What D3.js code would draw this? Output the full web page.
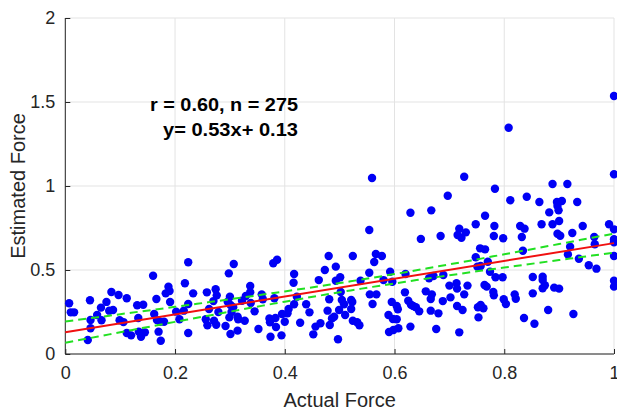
<!DOCTYPE html>
<html>
<head>
<meta charset="utf-8">
<script src="https://cdn.jsdelivr.net/npm/d3@7"></script>
<style>
  html, body { margin: 0; padding: 0; background: #fff; }
  svg { display: block; font-family: "Liberation Sans", Arial, Helvetica, sans-serif; }
</style>
</head>
<body>
<svg id="chart" width="617" height="411"></svg>
<script>
// Measured force (x) against model estimate (y), one entry per trial
const actualForce = [
  0.007,0.010,0.016,0.045,0.046,0.046,0.041,0.058,0.065,0.066,0.075,0.080,0.087,0.084,0.097,0.099,0.106,0.112,0.112,0.120,
  0.131,0.142,0.133,0.134,0.138,0.145,0.160,0.166,0.162,0.167,0.170,0.174,0.173,0.180,0.183,0.188,0.191,0.190,
  0.224,0.218,0.202,0.208,0.224,0.216,0.224,0.233,0.258,0.274,0.276,0.270,0.262,0.256,0.259,0.271,0.275,0.279,0.292,0.298,
  0.307,0.296,0.300,0.301,0.303,0.299,0.306,0.301,0.314,0.315,0.314,0.327,0.322,0.329,0.337,0.338,0.337,0.345,0.352,0.358,
  0.360,0.372,0.373,0.383,0.384,0.374,0.394,0.379,0.386,0.381,0.395,0.400,
  0.417,0.416,0.422,0.417,0.407,0.405,0.428,0.439,0.445,0.452,0.456,0.462,0.465,0.473,0.480,0.481,0.478,0.486,0.490,0.482,
  0.497,0.493,0.493,0.501,0.502,0.504,0.508,0.499,0.510,0.521,0.523,0.521,0.524,0.538,0.524,0.532,0.536,0.554,0.554,0.555,
  0.567,0.560,0.563,0.566,0.577,0.580,0.592,0.596,0.595,0.604,0.589,0.597,0.606,0.604,0.590,0.598,0.607,0.559,
  0.629,0.667,0.648,0.684,0.718,0.715,0.722,0.730,0.748,0.765,0.782,0.781,0.798,0.756,0.765,0.748,0.770,0.751,0.757,0.774,
  0.784,0.797,0.620,0.663,0.671,0.689,0.619,0.657,0.668,0.666,0.700,0.713,0.714,0.733,0.727,0.702,0.688,0.764,0.768,0.780,
  0.781,0.799,0.625,0.630,0.634,0.639,0.645,0.666,0.680,0.714,0.724,0.752,0.762,0.757,0.753,0.629,0.676,0.718,
  1.000,0.808,0.727,1.000,0.783,0.697,0.888,0.915,0.811,0.841,0.864,0.896,0.905,0.933,
  0.897,0.899,0.882,0.829,0.837,0.868,0.888,0.900,0.943,0.991,1.000,0.832,0.897,0.902,0.924,0.964,1.000,0.965,1.000,0.834,
  0.920,0.916,0.936,1.000,0.954,0.968,0.852,0.870,0.870,0.874,0.870,0.891,0.900,1.000,1.000,0.819,0.821,0.852,0.803,0.880,
  0.926,0.836,0.855
];
const estimatedForce = [
  0.302,0.248,0.248,0.320,0.202,0.153,0.083,0.232,0.276,0.201,0.310,0.258,0.262,0.369,0.351,0.201,0.190,0.332,0.125,0.111,
  0.290,0.293,0.214,0.133,0.103,0.129,0.466,0.327,0.238,0.202,0.133,0.079,0.192,0.192,0.361,0.401,0.310,0.375,
  0.546,0.421,0.252,0.207,0.298,0.258,0.125,0.361,0.367,0.385,0.349,0.315,0.268,0.207,0.171,0.198,0.174,0.250,0.167,0.480,
  0.536,0.311,0.341,0.292,0.250,0.218,0.278,0.119,0.222,0.207,0.139,0.198,0.317,0.345,0.405,0.304,0.367,0.254,0.149,0.355,
  0.326,0.212,0.189,0.214,0.161,0.103,0.111,0.540,0.561,0.332,0.238,0.192,
  0.476,0.424,0.341,0.296,0.268,0.242,0.186,0.296,0.248,0.117,0.163,0.440,0.183,0.500,0.583,0.326,0.258,0.212,0.222,0.173,
  0.088,0.520,0.436,0.457,0.369,0.321,0.296,0.262,0.232,0.321,0.310,0.268,0.583,0.436,0.198,0.189,0.171,0.738,0.484,0.355,
  0.355,0.298,0.548,0.595,0.583,0.440,0.490,0.430,0.310,0.286,0.232,0.208,0.266,0.207,0.131,0.143,0.153,1.048,
  0.841,0.855,0.685,0.702,0.746,0.708,0.692,0.724,0.772,0.823,0.762,0.702,0.689,0.629,0.623,0.576,0.549,0.520,0.524,0.490,
  0.457,0.457,0.476,0.451,0.464,0.470,0.367,0.373,0.355,0.327,0.407,0.421,0.389,0.407,0.355,0.337,0.315,0.411,0.401,0.369,
  0.349,0.326,0.317,0.293,0.286,0.278,0.254,0.258,0.242,0.286,0.262,0.278,0.272,0.292,0.218,0.163,0.149,0.129,
  1.536,1.347,1.055,1.070,0.984,0.942,1.012,1.012,0.915,0.936,0.905,0.905,0.911,0.905,
  0.881,0.855,0.843,0.762,0.746,0.772,0.772,0.792,0.762,0.772,0.742,0.696,0.716,0.704,0.720,0.696,0.683,0.653,0.665,0.615,
  0.639,0.593,0.567,0.583,0.528,0.508,0.458,0.460,0.440,0.409,0.391,0.395,0.389,0.436,0.401,0.355,0.329,0.361,0.298,0.262,
  0.238,0.214,0.180
];

// Least-squares fit reported in the annotation
const fitSlope = 0.53;
const fitIntercept = 0.13;
// 95% confidence band of the fitted mean: half-width = sqrt(bandBase + bandSpread*(x - bandCentre)^2)
const bandCentre = 0.533;
const bandBase = 0.00073;
const bandSpread = 0.0115;

const xTicks = [0, 0.2, 0.4, 0.6, 0.8, 1];
const yTicks = [0, 0.5, 1, 1.5, 2];
const annotationLines = ["r = 0.60, n = 275", "y= 0.53x+ 0.13"];
const xLabel = "Actual Force";
const yLabel = "Estimated Force";

const svg = d3.select("#chart");
const plot = { left: 65.3, right: 614, top: 18, bottom: 354 };

const x = d3.scaleLinear().domain([0, 1]).range([plot.left, plot.right]);
const y = d3.scaleLinear().domain([0, 2]).range([plot.bottom, plot.top]);

const axisColor = "#262626";
const gridColor = "#e3e3e3";

// grid
const grid = svg.append("g");
grid.selectAll(".gx").data(xTicks).join("line")
  .attr("x1", d => x(d)).attr("x2", d => x(d))
  .attr("y1", plot.top).attr("y2", plot.bottom)
  .attr("stroke", gridColor).attr("stroke-width", 1);
grid.selectAll(".gy").data(yTicks).join("line")
  .attr("x1", plot.left).attr("x2", plot.right)
  .attr("y1", d => y(d)).attr("y2", d => y(d))
  .attr("stroke", gridColor).attr("stroke-width", 1);

// axes with inward ticks
const xAxis = d3.axisBottom(x).tickValues(xTicks).tickSize(-5).tickPadding(12)
  .tickFormat(d => d3.format("~g")(d));
const yAxis = d3.axisLeft(y).tickValues(yTicks).tickSize(-5).tickPadding(10)
  .tickFormat(d => d3.format("~g")(d));

function styleAxis(g) {
  g.select(".domain").attr("stroke", axisColor).attr("stroke-width", 1);
  g.selectAll(".tick line").attr("stroke", axisColor);
  g.selectAll(".tick text").attr("fill", axisColor)
    .style("font-size", "18px")
    .style("font-family", "'Liberation Sans', Arial, sans-serif");
}
svg.append("g").attr("transform", `translate(0,${plot.bottom})`).call(xAxis).call(styleAxis)
  .call(g => g.select(".domain").attr("d", `M${plot.left},0H${plot.right}`));
svg.append("g").attr("transform", `translate(${plot.left},0)`).call(yAxis).call(styleAxis)
  .call(g => g.select(".domain").attr("d", `M0,${plot.bottom}V${plot.top}`));

// scatter points
const points = actualForce.map((a, i) => ({ a, e: estimatedForce[i] }));
svg.append("g").selectAll("circle").data(points).join("circle")
  .attr("cx", d => x(d.a)).attr("cy", d => y(d.e)).attr("r", 4.2)
  .attr("fill", "#0000f5");

// fit line and confidence band
const xs = d3.range(0, 1.0001, 0.02);
const fit = v => fitSlope * v + fitIntercept;
const half = v => Math.sqrt(bandBase + bandSpread * (v - bandCentre) ** 2);
const line = d3.line().x(d => x(d[0])).y(d => y(d[1]));

svg.append("path").datum(xs.map(v => [v, fit(v) + half(v)]))
  .attr("d", line).attr("fill", "none").attr("stroke", "#22e022")
  .attr("stroke-width", 2).attr("stroke-dasharray", "8,5");
svg.append("path").datum(xs.map(v => [v, fit(v) - half(v)]))
  .attr("d", line).attr("fill", "none").attr("stroke", "#22e022")
  .attr("stroke-width", 2).attr("stroke-dasharray", "8,5");
svg.append("path").datum([[0, fit(0)], [1, fit(1)]])
  .attr("d", line).attr("fill", "none").attr("stroke", "#f01010")
  .attr("stroke-width", 2);

// annotation
const ann = svg.append("g").attr("font-weight", "bold").attr("font-size", "19px").attr("fill", "#000");
ann.append("text").attr("x", 150).attr("y", 111).attr("textLength", 148)
  .attr("lengthAdjust", "spacingAndGlyphs").text(annotationLines[0]);
ann.append("text").attr("x", 163).attr("y", 136).attr("textLength", 135)
  .attr("lengthAdjust", "spacingAndGlyphs").text(annotationLines[1]);

// axis titles
svg.append("text").attr("x", (plot.left + plot.right) / 2).attr("y", 407)
  .attr("text-anchor", "middle").attr("font-size", "20px").attr("fill", axisColor)
  .text(xLabel);
svg.append("text").attr("transform", `translate(25,${(plot.top + plot.bottom) / 2}) rotate(-90)`)
  .attr("text-anchor", "middle").attr("font-size", "20px").attr("fill", axisColor)
  .text(yLabel);
</script>
</body>
</html>
